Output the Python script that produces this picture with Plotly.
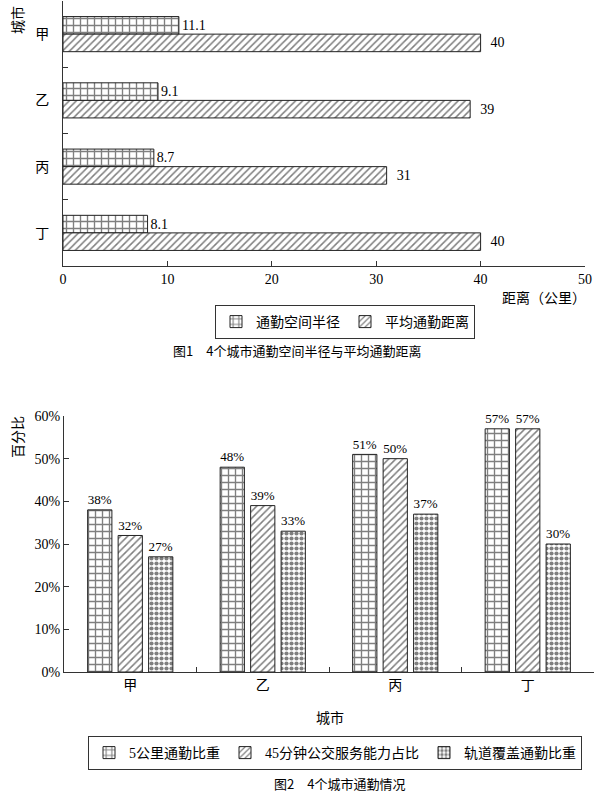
import plotly.graph_objects as go

# 图1 data
cities = ["甲", "乙", "丙", "丁"]
radius_km = [11.1, 9.1, 8.7, 8.1]       # 通勤空间半径
avg_dist_km = [40, 39, 31, 40]          # 平均通勤距离

# 图2 data (percent)
share_5km = [38, 48, 51, 57]            # 5公里通勤比重
share_bus45 = [32, 39, 50, 57]          # 45分钟公交服务能力占比
share_rail = [27, 33, 37, 30]           # 轨道覆盖通勤比重

x_ticks = [0, 10, 20, 30, 40, 50]
pct_ticks = [0, 10, 20, 30, 40, 50, 60]
pct_labels = [f"{v}%" for v in pct_ticks]

W, H = 594, 794
SERIF = "Liberation Serif, Noto Sans CJK SC"
SANS = "Noto Sans CJK SC, Liberation Sans"
LINE = dict(color="#222", width=1)


def px(x):
    return x / W


def py(y):
    return 1 - y / H


brick = dict(shape="+", fgcolor="black", bgcolor="white", size=7, solidity=0.35)
hatch = dict(shape="/", fgcolor="black", bgcolor="white", size=5, solidity=0.3)
dots = dict(shape=".", fgcolor="black", bgcolor="white", size=5, solidity=0.55)

fig = go.Figure()

# ---- 图1: horizontal bars (two bars touching within each city)
fig.add_trace(go.Bar(
    name="通勤空间半径", y=cities, x=radius_km, orientation="h",
    width=0.265, offset=-0.265,
    marker=dict(color="white", pattern=brick, line=LINE),
    text=[f"{v}" for v in radius_km], textposition="outside",
    textfont=dict(family=SERIF, size=14, color="black"),
    cliponaxis=False, xaxis="x", yaxis="y", legend="legend",
))
fig.add_trace(go.Bar(
    name="平均通勤距离", y=cities, x=avg_dist_km, orientation="h",
    width=0.265, offset=0,
    marker=dict(color="white", pattern=hatch, line=LINE),
    text=[f"  {v}" for v in avg_dist_km], textposition="outside",
    textfont=dict(family=SERIF, size=14, color="black"),
    cliponaxis=False, xaxis="x", yaxis="y", legend="legend",
))

# ---- 图2: vertical grouped bars
for name, vals, pat in [("5公里通勤比重", share_5km, brick),
                        ("45分钟公交服务能力占比", share_bus45, hatch),
                        ("轨道覆盖通勤比重", share_rail, dots)]:
    fig.add_trace(go.Bar(
        name=name, x=cities, y=vals, width=0.183,
        marker=dict(color="white", pattern=pat, line=LINE),
        text=[f"{v}%" for v in vals], textposition="outside",
        textfont=dict(family=SERIF, size=14, color="black"),
        cliponaxis=False, xaxis="x2", yaxis="y2", legend="legend2",
    ))

axis_common = dict(showline=True, linecolor="#333", linewidth=1,
                   ticks="inside", ticklen=5, tickcolor="#333",
                   showgrid=False, zeroline=False, automargin=False,
                   ticklabeloverflow="allow",
                   tickfont=dict(family=SERIF, size=14, color="black"))

fig.update_layout(
    width=W, height=H,
    margin=dict(l=0, r=0, t=0, b=0),
    paper_bgcolor="white", plot_bgcolor="white",
    font=dict(family=SERIF, size=14, color="black"),
    barmode="group",
    bargap=0.31, bargroupgap=0,
    showlegend=True,
    xaxis=dict(domain=[px(63), px(585)], anchor="y", range=[0, 50],
               tickvals=x_ticks, **axis_common),
    yaxis=dict(domain=[py(266), py(1)], anchor="x", autorange="reversed",
               tickson="boundaries", ticklabelstandoff=10, **axis_common),
    xaxis2=dict(domain=[px(64), px(594)], anchor="y2",
                tickson="boundaries", **axis_common),
    yaxis2=dict(domain=[py(672), py(416)], anchor="x2", range=[0, 60],
                tickvals=pct_ticks, ticktext=pct_labels, **axis_common),
    legend=dict(orientation="h", x=px(215), y=py(305), xanchor="left", yanchor="top",
                bordercolor="#333", borderwidth=1, bgcolor="white",
                font=dict(family=SERIF, size=14), itemwidth=30,
                traceorder="normal", tracegroupgap=0),
    legend2=dict(orientation="h", x=px(88), y=py(736), xanchor="left", yanchor="top",
                 bordercolor="#333", borderwidth=1, bgcolor="white",
                 font=dict(family=SERIF, size=14), itemwidth=30,
                 traceorder="normal"),
)

annos = [
    dict(text="距离（公里）", x=px(588), y=py(298), xanchor="right", font=dict(size=14)),
    dict(text="图1　4个城市通勤空间半径与平均通勤距离", x=px(297), y=py(350),
         font=dict(family=SANS, size=13)),
    dict(text="城市", x=px(18), y=py(20), textangle=-90, font=dict(size=14)),
    dict(text="百分比", x=px(18), y=py(437), textangle=-90, font=dict(size=14)),
    dict(text="城市", x=px(330), y=py(718), font=dict(size=14)),
    dict(text="图2　4个城市通勤情况", x=px(340), y=py(783),
         font=dict(family=SANS, size=13)),
]
for a in annos:
    fig.add_annotation(xref="paper", yref="paper", showarrow=False,
                       xanchor=a.pop("xanchor", "center"), yanchor="middle", **a)

# drop the default page margin so the 594x794 figure fills the window exactly
fig.write_html("out.html",
               config={"displayModeBar": False},
               post_script="document.body.style.margin='0';"
                           "document.body.style.overflow='hidden';")
